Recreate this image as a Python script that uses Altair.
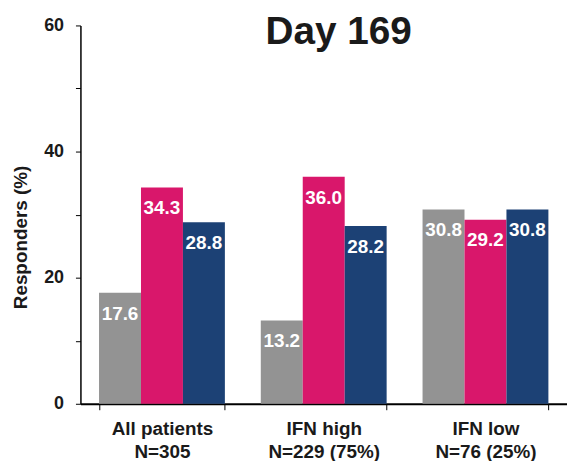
import altair as alt
import pandas as pd

# Responder rates (%) at day 169 by interferon signature subgroup
groups = ["All patients|N=305", "IFN high|N=229 (75%)", "IFN low|N=76 (25%)"]
arms = ["Placebo", "Dose 1", "Dose 2"]
arm_colors = ["#939393", "#D9176B", "#1C4175"]
placebo = [17.6, 13.2, 30.8]
dose1 = [34.3, 36.0, 29.2]
dose2 = [28.8, 28.2, 30.8]
y_ticks = [0, 10, 20, 30, 40, 50, 60]

rows = []
for g, a, b, c in zip(groups, placebo, dose1, dose2):
    for arm, v in zip(arms, (a, b, c)):
        rows.append({"group": g, "arm": arm, "value": v})
df = pd.DataFrame(rows)

FONT = "Liberation Sans"

x = alt.X(
    "group:N",
    sort=groups,
    scale=alt.Scale(paddingInner=0.222, paddingOuter=0.115),
    axis=alt.Axis(
        title=None,
        labelExpr="split(datum.label, '|')",
        labelAngle=0,
        labelFont=FONT,
        labelFontSize=19,
        labelFontWeight="bold",
        labelColor="#1a1a1a",
        labelLineHeight=23,
        labelBaseline="top",
        labelPadding=10,
        tickBand="extent",
        tickSize=6,
        tickColor="#000000",
        domainColor="#000000",
        domainWidth=2,
    ),
)
x_off = alt.XOffset("arm:N", sort=arms, scale=alt.Scale(paddingInner=0, paddingOuter=0))
y = alt.Y(
    "value:Q",
    scale=alt.Scale(domain=[0, 60], nice=False, zero=True),
    axis=alt.Axis(
        title="Responders (%)",
        values=y_ticks,
        labelExpr="datum.value % 20 == 0 ? datum.label : ''",
        labelFont=FONT,
        labelFontSize=18,
        labelFontWeight="bold",
        labelColor="#1a1a1a",
        labelPadding=12,
        tickSize=5,
        tickColor="#000000",
        domainColor="#000000",
        domainWidth=1.5,
        grid=False,
        titleFont=FONT,
        titleFontSize=19,
        titleFontWeight="bold",
        titleColor="#1a1a1a",
        titleAngle=-90,
        titleAlign="center",
        titleBaseline="alphabetic",
        titleX=-54,
        titleY=213,
    ),
)
color = alt.Color("arm:N", sort=arms, scale=alt.Scale(domain=arms, range=arm_colors), legend=None)

bars = alt.Chart(df).mark_bar().encode(x=x, xOffset=x_off, y=y, color=color)

labels = alt.Chart(df).mark_text(
    color="white", font=FONT, fontSize=19, fontWeight="bold",
    align="center", baseline="alphabetic", dy=27,
).encode(x=x, xOffset=x_off, y=y, text=alt.Text("value:Q", format=".1f"))

title = alt.Chart(pd.DataFrame({"t": ["Day 169"]})).mark_text(
    font=FONT, fontSize=39, fontWeight="bold", color="#1a1a1a",
    align="center", baseline="alphabetic",
).encode(x=alt.value(260), y=alt.value(19), text="t:N")

chart = (
    alt.layer(bars, labels, title)
    .properties(
        width=490,
        height=381,
        padding={"left": 81, "top": 24, "right": 0, "bottom": 56},
        autosize="none",
        background="white",
    )
    .configure_view(stroke=None)
)

chart.save("out.html", embed_options={"renderer": "svg", "actions": False})
